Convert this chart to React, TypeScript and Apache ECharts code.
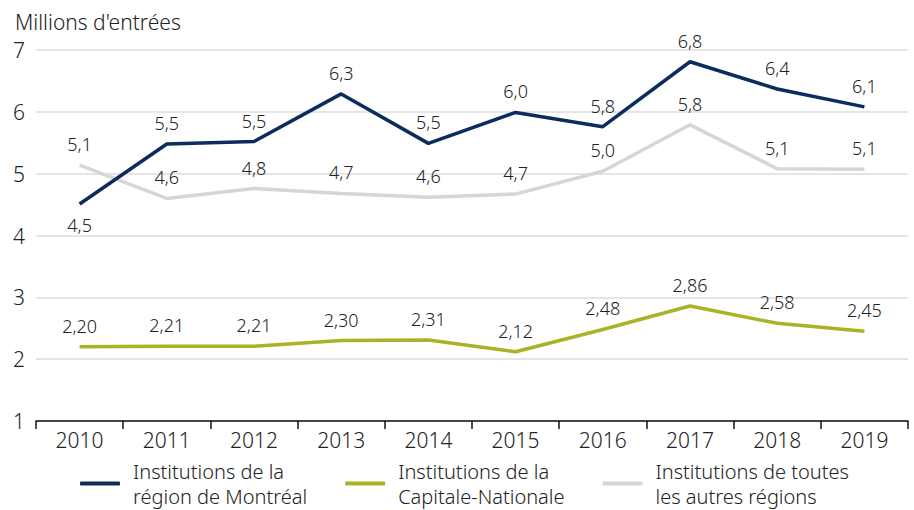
import React, { useEffect, useRef } from "react";
import * as echarts from "echarts";

const years = ["2010", "2011", "2012", "2013", "2014", "2015", "2016", "2017", "2018", "2019"];
const montreal = [4.51, 5.48, 5.52, 6.29, 5.49, 5.99, 5.76, 6.81, 6.37, 6.08];
const capitale = [2.2, 2.21, 2.21, 2.3, 2.31, 2.12, 2.48, 2.86, 2.58, 2.45];
const autres = [5.14, 4.6, 4.76, 4.68, 4.62, 4.67, 5.04, 5.79, 5.08, 5.07];
const seriesNames = [
  "Institutions de la\nrégion de Montréal",
  "Institutions de la\nCapitale-Nationale",
  "Institutions de toutes\nles autres régions",
];
const FONT = "Noto Sans";
const TXT = "#222";
const W = 300;

const fmt = (d: number) => (v: any) => Number(v.value).toFixed(d).replace(".", ",");

export default function App() {
  const ref = useRef<HTMLDivElement>(null);
  useEffect(() => {
    if (!ref.current) return;
    const chart = echarts.init(ref.current, undefined, { renderer: "svg" });
    const label = (d: number) => ({
      show: true,
      position: "top",
      distance: 12,
      formatter: fmt(d),
      fontFamily: FONT,
      fontSize: 18,
      fontWeight: W,
      color: TXT,
    });
    chart.setOption({
      animation: false,
      textStyle: { fontFamily: FONT },
      title: {
        text: "Millions d'entrées",
        left: 10,
        top: 6,
        textStyle: { fontFamily: FONT, fontSize: 21, fontWeight: W, color: TXT },
      },
      grid: { left: 36, right: 6, top: 50, bottom: 89, containLabel: false },
      legend: {
        left: 80,
        top: 461,
        padding: 0,
        itemWidth: 40,
        itemHeight: 4,
        itemGap: 38,
        icon: "roundRect",
        textStyle: {
          fontFamily: FONT,
          fontSize: 20,
          fontWeight: W,
          color: TXT,
          lineHeight: 25,
          height: 25,
          padding: [0, 0, 0, 8],
        },
        data: seriesNames,
      },
      xAxis: {
        type: "category",
        data: years,
        boundaryGap: true,
        axisLine: { lineStyle: { color: "#111", width: 1.5 } },
        axisTick: { show: true, alignWithLabel: false, length: 8, lineStyle: { color: "#111", width: 1.5 } },
        axisLabel: { fontFamily: FONT, fontSize: 21, fontWeight: W, color: TXT, margin: 8 },
      },
      yAxis: {
        type: "value",
        min: 1,
        max: 7,
        interval: 1,
        axisLine: { show: false },
        axisTick: { show: false },
        splitLine: { lineStyle: { color: "#dcdcdc", width: 1.5 } },
        axisLabel: { fontFamily: FONT, fontSize: 21, fontWeight: W, color: TXT, margin: 11 },
      },
      series: [
        {
          name: seriesNames[0],
          type: "line",
          data: montreal.map((v, i) => (i === 0 ? { value: v, label: { position: "bottom" } } : v)),
          showSymbol: true,
          symbol: "circle",
          symbolSize: 0,
          lineStyle: { color: "#0b2c5e", width: 3.5 },
          itemStyle: { color: "#0b2c5e" },
          label: label(1),
          z: 3,
        },
        {
          name: seriesNames[1],
          type: "line",
          data: capitale,
          showSymbol: true,
          symbol: "circle",
          symbolSize: 0,
          lineStyle: { color: "#a9b326", width: 3.5 },
          itemStyle: { color: "#a9b326" },
          label: label(2),
          z: 2,
        },
        {
          name: seriesNames[2],
          type: "line",
          data: autres,
          showSymbol: true,
          symbol: "circle",
          symbolSize: 0,
          lineStyle: { color: "#d6d6d6", width: 3.5 },
          itemStyle: { color: "#d6d6d6" },
          label: label(1),
          z: 1,
        },
      ],
    });
    return () => chart.dispose();
  }, []);
  return <div ref={ref} style={{ width: 914, height: 510, position: "absolute", left: 0, top: 0, background: "#fff" }} />;
}
